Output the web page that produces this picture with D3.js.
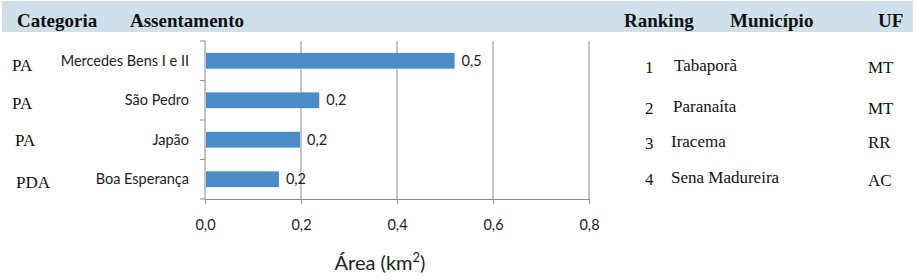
<!DOCTYPE html>
<html lang="pt">
  <head>
    <meta charset="utf-8" />
    <script src="https://d3js.org/d3.v7.min.js"></script>
    <style>
      body { margin: 0; background: #fff; }
      .sans { font-family: Lato, "Open Sans", sans-serif; fill: #222; }
      .serif { font-family: "Liberation Serif", "DejaVu Serif", serif; fill: #111; }
    </style>
  </head>
  <body>
    <div id="chart"></div>
    <script>
      // data
      const categorias = ["PA", "PA", "PA", "PDA"];
      const assentamentos = ["Mercedes Bens I e II", "São Pedro", "Japão", "Boa Esperança"];
      const areas = [0.52, 0.238, 0.198, 0.154];
      const xTicks = [0, 0.2, 0.4, 0.6, 0.8];
      const ranking = ["1", "2", "3", "4"];
      const municipios = ["Tabaporã", "Paranaíta", "Iracema", "Sena Madureira"];
      const ufs = ["MT", "MT", "RR", "AC"];
      const headers = ["Categoria", "Assentamento", "Ranking", "Município", "UF"];

      const width = 916, height = 280;
      const marginTop = 41, marginLeft = 205, plotRight = 589, plotBottom = 199;

      const svg = d3.select("#chart")
        .append("svg")
        .attr("width", width)
        .attr("height", height);

      // header band
      svg.append("rect")
        .attr("x", 2).attr("y", 1)
        .attr("width", 911).attr("height", 31)
        .attr("fill", "#cfe0ea");

      const headerX = [17, 130, 624, 730, 878];
      svg.append("g").selectAll("text")
        .data(headers)
        .enter().append("text")
        .attr("class", "serif")
        .attr("x", (d, i) => headerX[i])
        .attr("y", 27)
        .attr("font-size", 19)
        .attr("font-weight", "bold")
        .text(d => d);

      const x = d3.scaleLinear().domain([0, 0.8]).range([marginLeft, plotRight]);
      const y = d3.scaleBand()
        .domain(assentamentos)
        .range([marginTop, plotBottom])
        .paddingInner(0.6)
        .paddingOuter(0.3);
      const yEdge = d3.scaleLinear().domain([0, assentamentos.length]).range([marginTop, plotBottom]);

      // vertical gridlines
      svg.append("g").selectAll("line")
        .data(xTicks.slice(1))
        .enter().append("line")
        .attr("x1", d => x(d)).attr("x2", d => x(d))
        .attr("y1", marginTop).attr("y2", plotBottom)
        .attr("stroke", "#8c8c8c");

      // x axis
      const xAxis = svg.append("g")
        .attr("transform", `translate(0,${plotBottom})`)
        .call(d3.axisBottom(x).tickValues(xTicks).tickSize(5).tickPadding(16)
          .tickFormat(d => d3.format(".1f")(d).replace(".", ",")));
      xAxis.select(".domain").attr("stroke", "#8c8c8c");
      xAxis.selectAll(".tick line").attr("stroke", "#8c8c8c");
      xAxis.selectAll(".tick text")
        .attr("class", "sans")
        .attr("font-size", 14.5)
        .attr("fill", "#222");

      // y axis line + ticks at band edges
      svg.append("line")
        .attr("x1", marginLeft).attr("x2", marginLeft)
        .attr("y1", marginTop).attr("y2", plotBottom)
        .attr("stroke", "#8c8c8c");
      svg.append("g").selectAll("line")
        .data(d3.range(assentamentos.length + 1))
        .enter().append("line")
        .attr("x1", marginLeft - 5).attr("x2", marginLeft)
        .attr("y1", d => yEdge(d)).attr("y2", d => yEdge(d))
        .attr("stroke", "#8c8c8c");

      // y labels
      svg.append("g").selectAll("text")
        .data(assentamentos)
        .enter().append("text")
        .attr("class", "sans")
        .attr("x", 189)
        .attr("y", d => y(d) + y.bandwidth() / 2)
        .attr("dy", "0.35em")
        .attr("text-anchor", "end")
        .attr("font-size", 14.5)
        .text(d => d);

      // bars
      svg.append("g").selectAll("rect")
        .data(areas)
        .enter().append("rect")
        .attr("x", x(0) + 1)
        .attr("y", (d, i) => y(assentamentos[i]))
        .attr("width", d => x(d) - x(0) - 1)
        .attr("height", y.bandwidth())
        .attr("fill", "#4a8cc8");

      // value labels
      svg.append("g").selectAll("text")
        .data(areas)
        .enter().append("text")
        .attr("class", "sans")
        .attr("x", d => x(d) + 7)
        .attr("y", (d, i) => y(assentamentos[i]) + y.bandwidth() / 2)
        .attr("dy", "0.35em")
        .attr("font-size", 14.5)
        .text(d => d3.format(".1f")(d).replace(".", ","));

      // axis title
      const title = svg.append("text")
        .attr("class", "sans")
        .attr("x", 380).attr("y", 270)
        .attr("text-anchor", "middle")
        .attr("font-size", 20);
      title.append("tspan").text("Área (km");
      title.append("tspan").attr("font-size", 13).attr("dy", -8).text("2");
      title.append("tspan").attr("dy", 8).text(")");

      // left table: categoria
      const catX = [12, 12, 15, 16];
      const catY = [65, 103, 140, 182];
      svg.append("g").selectAll("text")
        .data(categorias)
        .enter().append("text")
        .attr("class", "serif")
        .attr("x", (d, i) => catX[i])
        .attr("y", (d, i) => catY[i])
        .attr("dy", "0.35em")
        .attr("font-size", 17)
        .text(d => d);

      // right table
      const rowY = [66, 107, 142, 178];
      const munX = [674, 673, 671, 671];
      const ufY = [67, 108, 142, 180];
      const right = svg.append("g");
      right.selectAll(".rk").data(ranking).enter().append("text")
        .attr("x", 645).attr("y", (d, i) => rowY[i] + 1).attr("dy", "0.35em")
        .attr("font-size", 17).attr("class", "serif").text(d => d);
      right.selectAll(".mun").data(municipios).enter().append("text")
        .attr("x", (d, i) => munX[i]).attr("y", (d, i) => rowY[i] - 1).attr("dy", "0.35em")
        .attr("font-size", 17).attr("class", "serif").text(d => d);
      right.selectAll(".uf").data(ufs).enter().append("text")
        .attr("x", 868).attr("y", (d, i) => ufY[i]).attr("dy", "0.35em")
        .attr("font-size", 17).attr("class", "serif").text(d => d);
    </script>
  </body>
</html>
